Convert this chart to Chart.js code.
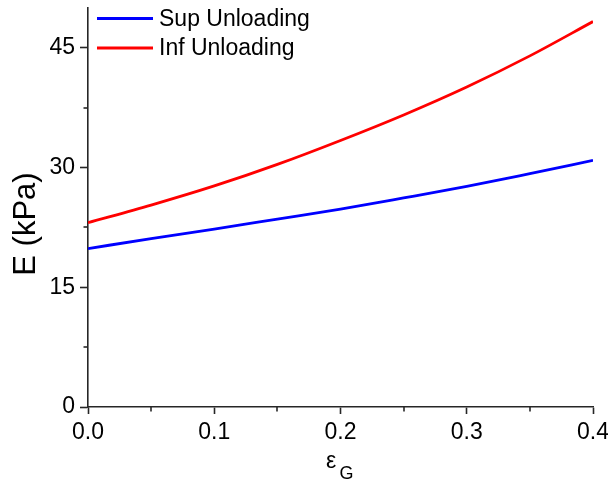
<!DOCTYPE html>
<html>
<head>
<meta charset="utf-8">
<title>E vs strain</title>
<script src="https://cdn.jsdelivr.net/npm/chart.js@4.4.1/dist/chart.umd.min.js"></script>
<style>
  html, body { margin: 0; padding: 0; background: #ffffff; }
  #wrap { width: 608px; height: 483px; }
</style>
</head>
<body>
<div id="wrap"><canvas id="c" width="608" height="483"></canvas></div>
<script>
// Strain (ε_G) sample points and modulus E (kPa) for each unloading curve
const strain = [0, 0.05, 0.1, 0.15, 0.2, 0.25, 0.3, 0.35, 0.4];
const supUnloading = [19.85, 21.1, 22.3, 23.55, 24.8, 26.2, 27.65, 29.25, 30.9];
const infUnloading = [23.1, 25.3, 27.7, 30.4, 33.4, 36.6, 40.1, 44.0, 48.3];

// Axis ticks
const xTicks = [0, 0.1, 0.2, 0.3, 0.4];
const xMinorTicks = [0.05, 0.15, 0.25, 0.35];
const yTicks = [0, 15, 30, 45];
const yMinorTicks = [7.5, 22.5, 37.5];

const FONT = '"Liberation Sans", Arial, Helvetica, sans-serif';
const AXIS_COLOR = '#262626';

const toPoints = (ys) => strain.map((x, i) => ({ x: x, y: ys[i] }));

// Minor ticks, axis titles (with subscript) and the in-plot legend
const decorations = {
  id: 'decorations',
  afterDraw(chart) {
    const ctx = chart.ctx;
    const xs = chart.scales.x, ys = chart.scales.y;
    const area = chart.chartArea;
    ctx.save();
    ctx.strokeStyle = AXIS_COLOR;
    ctx.lineWidth = 1.6;
    xMinorTicks.forEach(v => {
      const px = Math.round(xs.getPixelForValue(v));
      ctx.beginPath();
      ctx.moveTo(px, area.bottom);
      ctx.lineTo(px, area.bottom + 4.5);
      ctx.stroke();
    });
    yMinorTicks.forEach(v => {
      const py = Math.round(ys.getPixelForValue(v));
      ctx.beginPath();
      ctx.moveTo(area.left, py);
      ctx.lineTo(area.left - 4.5, py);
      ctx.stroke();
    });

    // y-axis title
    ctx.fillStyle = '#000000';
    ctx.save();
    ctx.translate(26, 224);
    ctx.rotate(-Math.PI / 2);
    ctx.font = '31px ' + FONT;
    ctx.textAlign = 'center';
    ctx.textBaseline = 'middle';
    ctx.fillText('E (kPa)', 0, 0);
    ctx.restore();

    // x-axis title: ε with subscript G
    ctx.textAlign = 'left';
    ctx.textBaseline = 'alphabetic';
    ctx.font = '23px ' + FONT;
    ctx.fillText('ε', 326, 468);
    ctx.font = '18px ' + FONT;
    ctx.fillText('G', 339.5, 479);

    // legend
    ctx.font = '23px ' + FONT;
    ctx.textBaseline = 'middle';
    chart.data.datasets.forEach((ds, i) => {
      const y = 18.5 + i * 29.5;
      ctx.strokeStyle = ds.borderColor;
      ctx.lineWidth = 2.8;
      ctx.beginPath();
      ctx.moveTo(97, y);
      ctx.lineTo(153, y);
      ctx.stroke();
      ctx.fillStyle = '#000000';
      ctx.fillText(ds.label, 159, y + 1);
    });
    ctx.restore();
  }
};

new Chart(document.getElementById('c'), {
  type: 'line',
  data: {
    datasets: [
      {
        label: 'Sup Unloading',
        data: toPoints(supUnloading),
        borderColor: '#0000ff',
        borderWidth: 2.8,
        pointRadius: 0,
        cubicInterpolationMode: 'monotone',
        fill: false
      },
      {
        label: 'Inf Unloading',
        data: toPoints(infUnloading),
        borderColor: '#ff0000',
        borderWidth: 2.8,
        pointRadius: 0,
        cubicInterpolationMode: 'monotone',
        fill: false
      }
    ]
  },
  options: {
    responsive: false,
    animation: false,
    devicePixelRatio: 1,
    layout: { padding: { top: 8, right: 15, left: 0, bottom: 0 } },
    plugins: {
      legend: { display: false },
      tooltip: { enabled: false }
    },
    scales: {
      x: {
        type: 'linear',
        min: 0,
        max: 0.4,
        afterFit: s => { s.height = 76; s.paddingLeft = 0; s.paddingRight = 0; },
        afterBuildTicks: s => { s.ticks = xTicks.map(v => ({ value: v })); },
        border: { display: true, color: AXIS_COLOR, width: 1.6 },
        grid: {
          display: true,
          drawOnChartArea: false,
          drawTicks: true,
          tickLength: 7,
          tickColor: AXIS_COLOR,
          tickWidth: 1.6
        },
        ticks: {
          color: '#000000',
          padding: 5,
          maxRotation: 0,
          font: { family: FONT, size: 23 },
          callback: v => Number(v).toFixed(1)
        }
      },
      y: {
        type: 'linear',
        min: 0,
        max: 50,
        afterFit: s => { s.width = 88; s.paddingTop = 0; s.paddingBottom = 0; },
        afterBuildTicks: s => { s.ticks = yTicks.map(v => ({ value: v })); },
        border: { display: true, color: AXIS_COLOR, width: 1.6 },
        grid: {
          display: true,
          drawOnChartArea: false,
          drawTicks: true,
          tickLength: 8,
          tickColor: AXIS_COLOR,
          tickWidth: 1.6
        },
        ticks: {
          color: '#000000',
          padding: 5,
          font: { family: FONT, size: 23 },
          callback: v => String(v)
        }
      }
    }
  },
  plugins: [decorations]
});
</script>
</body>
</html>
